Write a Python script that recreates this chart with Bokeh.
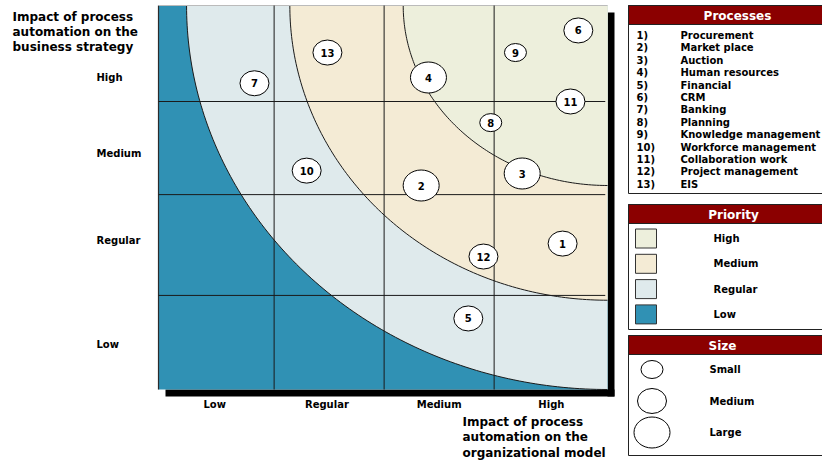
import numpy as np
from bokeh.plotting import figure
from bokeh.models import Range1d, ColumnDataSource
from bokeh.layouts import row
from bokeh.core.properties import value
from bokeh.embed import file_html
from bokeh.resources import INLINE

FONT = value("DejaVu Sans")

# ---------------- data ----------------
process_ids = [str(i) for i in range(1, 14)]
process_names = ["Procurement", "Market place", "Auction", "Human resources", "Financial",
                 "CRM", "Banking", "Planning", "Knowledge management", "Workforce management",
                 "Collaboration work", "Project management", "EIS"]
process_x = [3.60, 2.34, 3.24, 2.405, 2.76, 3.74, 0.855, 2.96, 3.18, 1.32, 3.67, 2.895, 1.505]
process_y = [1.52, 2.125, 2.25, 3.25, 0.74, 3.74, 3.19, 2.78, 3.51, 2.28, 3.0, 1.385, 3.51]
process_size = ["Medium", "Large", "Large", "Large", "Medium", "Medium", "Medium",
                "Small", "Small", "Medium", "Medium", "Medium", "Medium"]

level_labels = ["Low", "Regular", "Medium", "High"]
x_tick_pos = [0.5, 1.5, 2.5, 3.5]
y_tick_pos = [0.47, 1.55, 2.46, 3.25]
grid_x = [1.03, 2.01, 2.99]
grid_y = [0.98, 2.03, 3.0]

x_title = ["Impact of process", "automation on the", "organizational model"]
y_title = ["Impact of process", "automation on the", "business strategy"]

priority_labels = ["High", "Medium", "Regular", "Low"]
priority_colors = ["#EDEFDC", "#F4EBD5", "#DFEAEC", "#3091B4"]
# priority zones: quarter ellipses centred on the top-right corner (radii in axis units)
zone_levels = ["Regular", "Medium", "High"]
zone_rx = [3.75, 2.83, 1.82]
zone_ry = [4.0, 3.07, 1.875]

size_labels = ["Small", "Medium", "Large"]
size_w = [22, 29, 36]
size_h = [18, 25, 31]

# ---------------- main chart ----------------
XMAX, YMAX = 4.0, 4.0
PXX, PXY = 112.25, 96.0          # pixels per axis unit
X0PX, Y0PX = 158, 389            # pixel position of the (0, 0) corner
W_MAIN, H = 627, 462
shx, shy = 7 / PXX, 7 / PXY

p = figure(width=W_MAIN, height=H,
           x_range=Range1d(-X0PX / PXX, (W_MAIN - X0PX) / PXX),
           y_range=Range1d(-(H - Y0PX) / PXY, YMAX + (Y0PX - 384) / PXY),
           x_axis_type=None, y_axis_type=None, min_border=0,
           output_backend="svg", toolbar_location=None,
           background_fill_color="white", border_fill_color="white", outline_line_color=None)
p.grid.visible = False

def tx(px):
    return (px - X0PX) / PXX

def ty(py):
    return (Y0PX - py) / PXY

# shadow
p.quad(left=[XMAX, shx], right=[XMAX + shx, XMAX + shx], bottom=[-shy, -shy], top=[YMAX - shy, 0],
       fill_color="black", line_color=None)

# low priority base
col = dict(zip(priority_labels, priority_colors))
p.quad(left=0, right=XMAX, bottom=0, top=YMAX, fill_color=col["Low"], line_color=None)

t = np.linspace(0, np.pi / 2, 120)
for lev, rx, ry in zip(zone_levels, zone_rx, zone_ry):
    ax = XMAX - rx * np.cos(t)
    ay = YMAX - ry * np.sin(t)
    p.patch(np.concatenate([[XMAX], ax]), np.concatenate([[YMAX], ay]),
            fill_color=col[lev], line_color=None)
    p.line(ax, ay, line_color="#1a1a1a", line_width=1)

# frame edges
p.segment(x0=[0], y0=[0], x1=[0], y1=[YMAX], line_color="#2b2b2b", line_width=1.2)
p.segment(x0=[0], y0=[YMAX], x1=[XMAX], y1=[YMAX], line_color="#bbbbbb", line_width=1)

# grid
p.segment(x0=grid_x, y0=[0] * 3, x1=grid_x, y1=[YMAX] * 3, line_color="#1a1a1a", line_width=1)
p.segment(x0=[0] * 3, y0=grid_y, x1=[XMAX - 0.02] * 3, y1=grid_y, line_color="#1a1a1a", line_width=1)

# bubbles
sidx = [size_labels.index(s) for s in process_size]
src = ColumnDataSource(dict(x=process_x, y=process_y, lab=process_ids,
                            w=[size_w[i] for i in sidx], h=[size_h[i] for i in sidx]))
p.ellipse(x="x", y="y", width="w", height="h", width_units="screen", height_units="screen",
          source=src, fill_color="white", line_color="black", line_width=1)
p.text(x="x", y="y", text="lab", source=src, text_align="center", text_baseline="middle",
       text_font=FONT, text_font_style="bold", text_font_size="10px", text_color="black")

def ptext(xs, ys, texts, size="10px", align="left"):
    p.text(x=xs, y=ys, text=texts, text_align=align, text_baseline="middle",
           text_font=FONT, text_font_style="bold", text_font_size=size, text_color="black")

# tick labels
ptext(x_tick_pos, [ty(404)] * 4, level_labels, align="center")
ptext([tx(96)] * 4, y_tick_pos, level_labels)

# axis titles
ptext([tx(12)] * 3, [ty(16 + 15 * i) for i in range(3)], y_title, size="12px")
ptext([tx(462)] * 3, [ty(421 + 15.5 * i) for i in range(3)], x_title, size="12px")

# ---------------- legends ----------------
L = figure(width=822 - W_MAIN, height=H, x_range=Range1d(0, 822 - W_MAIN), y_range=Range1d(H, 0),
           x_axis_type=None, y_axis_type=None, min_border=0,
           output_backend="svg", toolbar_location=None, outline_line_color=None,
           background_fill_color="white", border_fill_color="white")
L.grid.visible = False
HEAD = "#8B0000"

def box(top, bottom, head_bottom, title, tcx):
    L.quad(left=1, right=230, top=top, bottom=bottom, fill_color="white", line_color="#222222", line_width=1)
    L.quad(left=1, right=230, top=top, bottom=head_bottom, fill_color=HEAD, line_color="#222222", line_width=1)
    L.text(x=[tcx], y=[(top + head_bottom) / 2 + 0.5], text=[title], text_align="center", text_baseline="middle",
           text_font=FONT, text_font_style="bold", text_font_size="12px", text_color="white")

def ltext(xs, ys, s):
    L.text(x=xs, y=ys, text=s, text_align="left", text_baseline="middle",
           text_font=FONT, text_font_style="bold", text_font_size="10px", text_color="black")

# processes
box(5, 193, 24, "Processes", 110)
py = [35 + 12.4 * i for i in range(len(process_names))]
ltext([9] * len(py), py, [f"{i})" for i in process_ids])
ltext([53] * len(py), py, process_names)

# priority
box(204, 329, 223, "Priority", 106)
qy = [238 + 25.3 * i for i in range(len(priority_labels))]
L.quad(left=8, right=29, top=[y - 9.5 for y in qy], bottom=[y + 9.5 for y in qy],
       fill_color=priority_colors, line_color="#333333", line_width=1)
ltext([86] * len(qy), qy, priority_labels)

# size
box(335, 455, 354, "Size", 95)
zy = [369 + 31.5 * i for i in range(len(size_labels))]
L.ellipse(x=[24.5] * 3, y=zy, width=size_w, height=size_h, width_units="screen", height_units="screen",
          fill_color="white", line_color="black", line_width=1)
ltext([82] * 3, zy, size_labels)

layout = row(p, L)
open("out.html", "w").write(file_html(layout, INLINE))
